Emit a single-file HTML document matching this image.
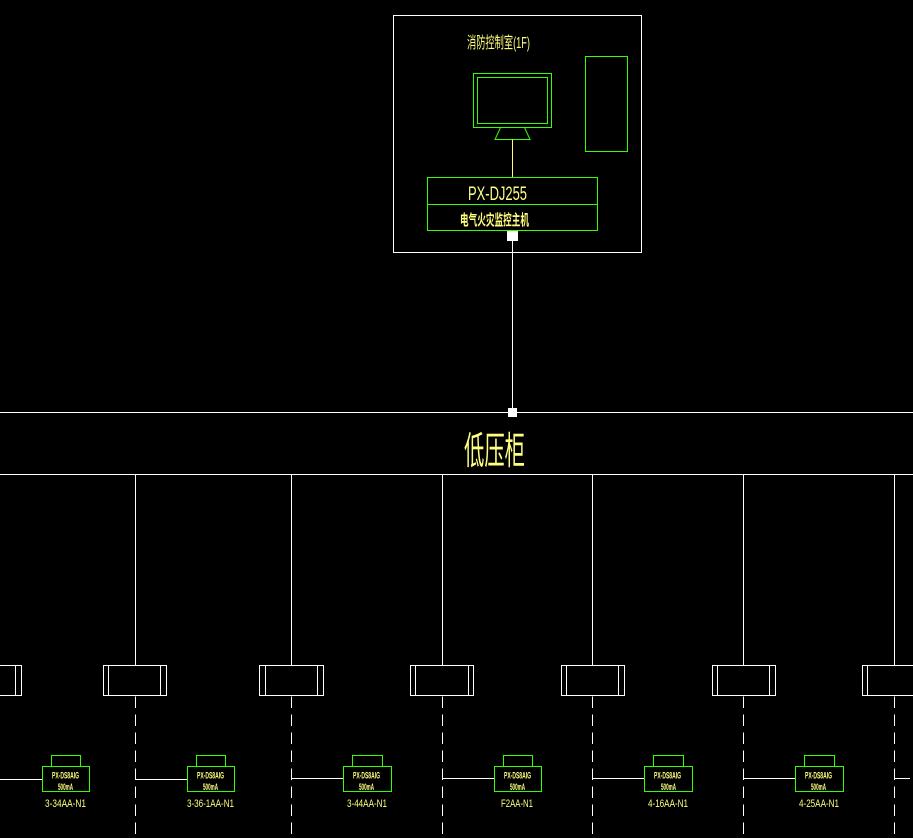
<!DOCTYPE html>
<html><head><meta charset="utf-8">
<style>
html,body{margin:0;padding:0;background:#000;width:913px;height:838px;overflow:hidden}
svg{display:block}
text{fill:#ffff80;font-family:"Liberation Sans","WenQuanYi Zen Hei","Noto Sans CJK SC",sans-serif}
.w{stroke:#fff;stroke-width:1;fill:none;shape-rendering:crispEdges}
.g{stroke:#33ff00;stroke-width:1;fill:none;shape-rendering:crispEdges}
.gt{stroke:#3f3;stroke-width:1.3;fill:none}
.d{stroke:#fff;stroke-width:1;stroke-dasharray:11.5 6.5;fill:none;shape-rendering:crispEdges}
</style></head><body>
<svg width="913" height="838" viewBox="0 0 913 838" xmlns="http://www.w3.org/2000/svg">
<rect width="913" height="838" fill="#000"/>
<rect class="w" x="393.5" y="15.5" width="248" height="237"/>
<rect class="g" x="473.5" y="73.5" width="78" height="54"/>
<rect class="g" x="477.5" y="77.5" width="70" height="46"/>
<path class="g" style="shape-rendering:auto" d="M500.5 127.5L495 139.5H530L524.5 127.5"/>
<rect class="g" x="585.5" y="56.5" width="42" height="95"/>
<path d="M512.5 139.5V177" stroke="#ffff80" fill="none" shape-rendering="crispEdges"/>
<rect class="g" x="427.5" y="177.5" width="170" height="53"/>
<path class="g" d="M427.5 204.5H597.5"/>
<rect x="507" y="231" width="11" height="10" fill="#fff"/>
<path class="w" d="M512.5 241V412"/>
<path class="w" d="M0 412.5H913M0 474.5H913"/>
<rect x="508" y="408" width="9" height="9" fill="#fff"/>

<text x="467" y="48" font-size="16" textLength="63" lengthAdjust="spacingAndGlyphs">消防控制室(1F)</text>
<text x="468" y="200" font-size="19" textLength="59" lengthAdjust="spacingAndGlyphs">PX-DJ255</text>
<text x="460" y="225" font-size="15" font-weight="bold" textLength="69" lengthAdjust="spacingAndGlyphs">电气火灾监控主机</text>
<text x="464" y="464" font-size="38" textLength="61" lengthAdjust="spacingAndGlyphs">低压柜</text>

<!-- verticals -->
<path class="w" d="M135.5 474V665M291.5 474V665M442.5 474V665M592.5 474V665M743.5 474V665M894.5 474V665"/>

<!-- breakers -->
<path class="w" d="M0 665.5H21.5V695.5H0M15.5 665.5V695.5"/>
<path class="w" d="M103.5 665.5H166.5V695.5H103.5ZM108.5 665.5V695.5M160.5 665.5V695.5"/>
<path class="w" d="M259.5 665.5H323.5V695.5H259.5ZM265.5 665.5V695.5M317.5 665.5V695.5"/>
<path class="w" d="M410.5 665.5H473.5V695.5H410.5ZM415.5 665.5V695.5M468.5 665.5V695.5"/>
<path class="w" d="M561.5 665.5H624.5V695.5H561.5ZM566.5 665.5V695.5M618.5 665.5V695.5"/>
<path class="w" d="M712.5 665.5H775.5V695.5H712.5ZM717.5 665.5V695.5M769.5 665.5V695.5"/>
<path class="w" d="M913 665.5H862.5V695.5H913M867.5 665.5V695.5"/>

<!-- dashed -->
<path class="d" d="M135.5 696.5V838M291.5 696.5V838M442.5 696.5V838M592.5 696.5V838M743.5 696.5V838M894.5 696.5V838"/>

<!-- branches -->
<path class="w" d="M0 779.5H42M135.5 779.5H187M291.5 778.5H343M442.5 778.5H494M592.5 778.5H644M743.5 778.5H795M894.5 778.5H910"/>

<!-- meters -->
<g class="g">
<rect x="42.5" y="766.5" width="47" height="25"/><rect x="51.5" y="755.5" width="29" height="11"/>
<rect x="187.5" y="766.5" width="47" height="25"/><rect x="196.5" y="755.5" width="29" height="11"/>
<rect x="343.5" y="766.5" width="48" height="25"/><rect x="352.5" y="755.5" width="30" height="11"/>
<rect x="494.5" y="766.5" width="47" height="25"/><rect x="503.5" y="755.5" width="29" height="11"/>
<rect x="644.5" y="766.5" width="48" height="25"/><rect x="653.5" y="755.5" width="30" height="11"/>
<rect x="795.5" y="766.5" width="48" height="25"/><rect x="804.5" y="755.5" width="30" height="11"/>
</g>

<g font-size="9" font-weight="bold">
<text x="52" y="778.5" textLength="27" lengthAdjust="spacingAndGlyphs">PX-DS8AIG</text>
<text x="197" y="778.5" textLength="27" lengthAdjust="spacingAndGlyphs">PX-DS8AIG</text>
<text x="353" y="778.5" textLength="27" lengthAdjust="spacingAndGlyphs">PX-DS8AIG</text>
<text x="504" y="778.5" textLength="27" lengthAdjust="spacingAndGlyphs">PX-DS8AIG</text>
<text x="654" y="778.5" textLength="27" lengthAdjust="spacingAndGlyphs">PX-DS8AIG</text>
<text x="805" y="778.5" textLength="27" lengthAdjust="spacingAndGlyphs">PX-DS8AIG</text>
<text x="58" y="790" textLength="15" lengthAdjust="spacingAndGlyphs">500mA</text>
<text x="203" y="790" textLength="15" lengthAdjust="spacingAndGlyphs">500mA</text>
<text x="359" y="790" textLength="15" lengthAdjust="spacingAndGlyphs">500mA</text>
<text x="510" y="790" textLength="15" lengthAdjust="spacingAndGlyphs">500mA</text>
<text x="661" y="790" textLength="15" lengthAdjust="spacingAndGlyphs">500mA</text>
<text x="811" y="790" textLength="15" lengthAdjust="spacingAndGlyphs">500mA</text>
</g>
<g font-size="11">
<text x="45" y="807" textLength="41" lengthAdjust="spacingAndGlyphs">3-34AA-N1</text>
<text x="187" y="807" textLength="47" lengthAdjust="spacingAndGlyphs">3-36-1AA-N1</text>
<text x="347" y="807" textLength="40" lengthAdjust="spacingAndGlyphs">3-44AA-N1</text>
<text x="501" y="807" textLength="32" lengthAdjust="spacingAndGlyphs">F2AA-N1</text>
<text x="648" y="807" textLength="40" lengthAdjust="spacingAndGlyphs">4-16AA-N1</text>
<text x="799" y="807" textLength="40" lengthAdjust="spacingAndGlyphs">4-25AA-N1</text>
</g>
</svg>
</body></html>
